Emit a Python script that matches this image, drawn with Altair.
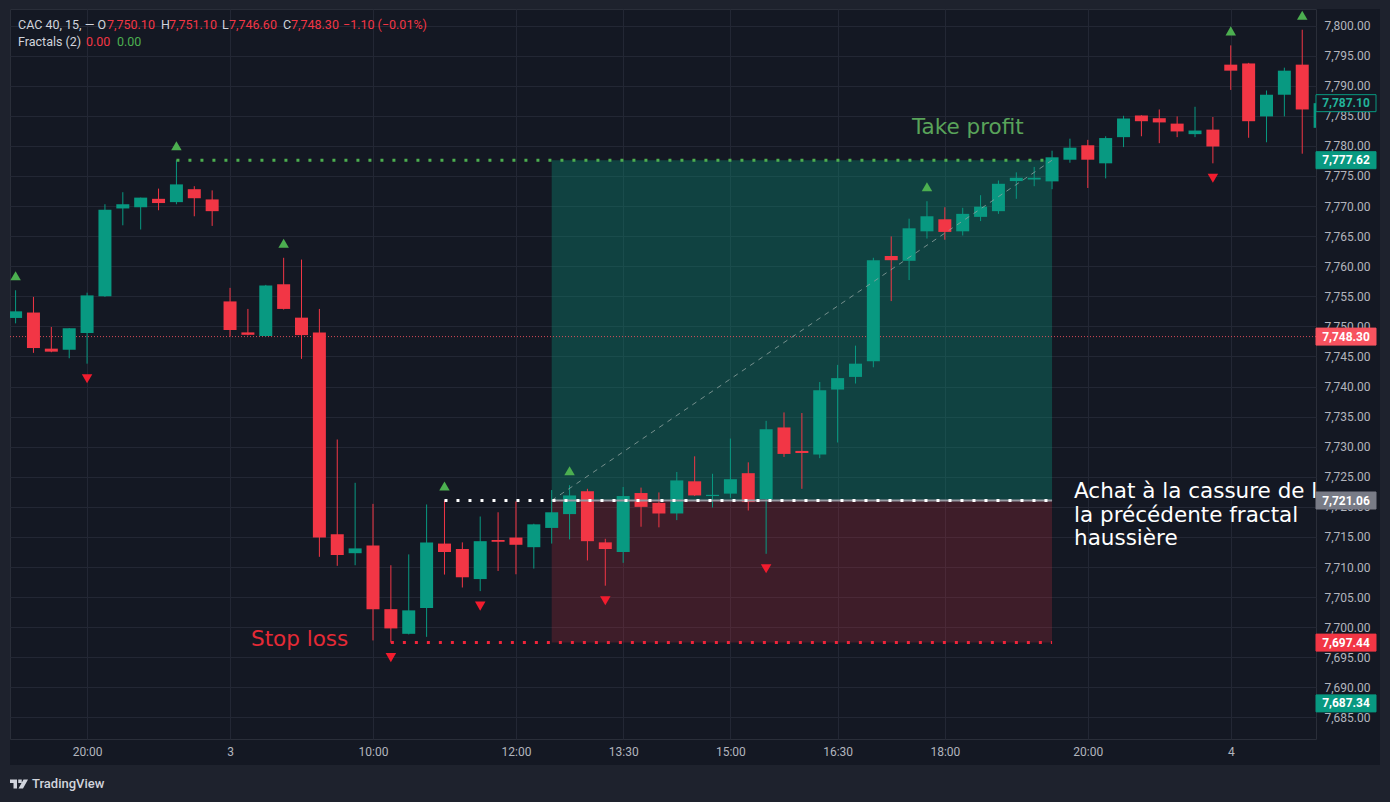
import altair as alt
import pandas as pd

# ---------------- data ----------------
bar_index = list(range(74))
opens = [7751.4, 7752.3, 7746.3, 7746.1, 7748.9, 7755.0, 7769.6, 7769.8, 7771.2, 7770.65,
         7772.8, 7771.1, 7754.15, 7749.0, 7748.4, 7757.0, 7751.45, 7749.0, 7715.45, 7712.3,
         7713.6, 7703.0, 7698.9, 7703.2, 7713.9, 7713.0, 7708.0, 7714.5, 7714.9, 7713.3,
         7716.5, 7718.8, 7722.6, 7714.1, 7712.5, 7722.3, 7720.65, 7718.9, 7724.25, 7721.8,
         7722.2, 7725.6, 7721.3, 7733.2, 7729.3, 7728.7, 7739.5, 7741.6, 7744.2, 7761.7,
         7760.9, 7765.8, 7767.8, 7765.8, 7768.2, 7769.15, 7774.15, 7774.4, 7774.1, 7777.7,
         7780.1, 7777.1, 7781.45, 7785.05, 7784.6, 7783.7, 7781.95, 7782.7, 7793.5, 7793.7,
         7784.9, 7788.5, 7793.5, 7783.0]
highs = [7756.0, 7754.9, 7749.9, 7749.7, 7755.6, 7770.3, 7772.3, 7771.4, 7772.9, 7777.62,
         7773.3, 7772.6, 7756.4, 7752.9, 7756.9, 7761.4, 7761.1, 7752.9, 7731.2, 7724.0,
         7720.5, 7710.3, 7712.1, 7720.4, 7721.06, 7714.1, 7718.4, 7719.1, 7720.9, 7717.2,
         7722.8, 7723.6, 7723.0, 7714.7, 7723.3, 7723.2, 7722.4, 7725.8, 7728.4, 7725.5,
         7731.35, 7727.4, 7734.3, 7735.7, 7735.6, 7740.75, 7743.6, 7746.8, 7761.4, 7764.95,
         7767.9, 7770.8, 7769.8, 7769.7, 7771.8, 7774.25, 7775.6, 7776.5, 7779.2, 7781.2,
         7781.0, 7781.6, 7785.0, 7785.1, 7786.05, 7784.9, 7786.5, 7784.8, 7796.7, 7793.8,
         7789.2, 7793.0, 7799.3, 7787.3]
lows = [7750.5, 7745.6, 7745.7, 7744.7, 7743.8, 7754.9, 7766.8, 7766.1, 7769.3, 7770.3,
        7768.3, 7766.7, 7748.3, 7748.5, 7748.3, 7752.8, 7744.6, 7711.7, 7710.2, 7710.3,
        7697.8, 7697.44, 7698.8, 7698.4, 7708.75, 7706.6, 7706.0, 7709.35, 7708.8, 7709.75,
        7713.9, 7714.6, 7711.1, 7706.9, 7710.7, 7716.7, 7716.6, 7717.8, 7721.8, 7719.9,
        7721.5, 7719.4, 7712.2, 7728.3, 7723.0, 7728.1, 7730.7, 7740.5, 7743.2, 7754.2,
        7757.7, 7764.6, 7764.4, 7765.1, 7767.5, 7768.7, 7771.2, 7773.3, 7772.8, 7777.2,
        7773.0, 7774.6, 7779.8, 7781.6, 7780.45, 7781.45, 7781.45, 7777.1, 7789.3, 7781.35,
        7780.6, 7784.9, 7778.7, 7783.0]
closes = [7752.5, 7746.4, 7745.8, 7749.7, 7755.15, 7769.4, 7770.3, 7771.4, 7770.5, 7773.6,
          7771.3, 7769.15, 7749.4, 7748.6, 7756.8, 7752.9, 7748.55, 7714.9, 7712.0, 7713.1,
          7703.0, 7699.8, 7702.8, 7714.1, 7712.5, 7708.3, 7714.3, 7714.2, 7713.7, 7717.1,
          7719.1, 7721.9, 7714.3, 7713.0, 7721.8, 7720.0, 7718.9, 7724.4, 7721.9, 7722.0,
          7724.6, 7720.8, 7732.9, 7728.8, 7728.95, 7739.4, 7741.4, 7743.8, 7761.0, 7761.0,
          7766.3, 7768.3, 7765.7, 7768.7, 7769.9, 7773.7, 7774.7, 7774.7, 7778.1, 7779.7,
          7777.7, 7781.3, 7784.55, 7784.1, 7783.9, 7782.4, 7782.55, 7779.9, 7792.5, 7784.1,
          7788.5, 7792.5, 7786.05, 7787.1]

up_fractal_idx = [0, 9, 15, 24, 31, 51, 68, 72]
down_fractal_idx = [4, 21, 26, 33, 42, 67]

tick_idx = [4, 12, 20, 28, 34, 40, 46, 52, 60, 68]
tick_labels = ["20:00", "3", "10:00", "12:00", "13:30", "15:00", "16:30", "18:00", "20:00", "4"]
price_ticks = list(range(7685, 7801, 5))

take_profit = 7777.62
entry_price = 7721.06
stop_loss = 7697.44
last_price = 7748.30
tp_line_start = 9
sl_line_start = 21
entry_line_start = 24
pos_start = 30
pos_end = 58

box_prices = [7787.10, 7777.62, 7748.30, 7721.06, 7697.44, 7687.34]
box_labels = ["7,787.10", "7,777.62", "7,748.30", "7,721.06", "7,697.44", "7,687.34"]

legend_values = ["7,750.10", "7,751.10", "7,746.60", "7,748.30"]
legend_change = "\u22121.10 (\u22120.01%)"
fractal_values = ["0.00", "0.00"]

# ---------------- styles ----------------
BG = "#141823"
FRAME = "#1e222d"
GRID = "#232734"
TXT = "#b2b5be"
UP = "#089981"
DOWN = "#f7525f"

W, H = 1306, 730
xs = alt.Scale(domain=[-0.313, 72.77], nice=False, zero=False, padding=0)
ys = alt.Scale(domain=[7681.42, 7802.75], nice=False, zero=False, padding=0)

label_expr = "''"
for v, lab in reversed(list(zip(tick_idx, tick_labels))):
    label_expr = f"datum.value == {v} ? '{lab}' : ({label_expr})"

x_axis = alt.Axis(values=tick_idx, labelExpr=label_expr, grid=True, gridColor=GRID,
                  ticks=False, domain=False, labelPadding=7, labelColor=TXT,
                  labelFont="Roboto", labelFontSize=12, title=None,
                  labelFlush=False, labelOverlap=False)
y_axis = alt.Axis(orient="right", values=price_ticks, format=",.2f", grid=True,
                  gridColor=GRID, ticks=False, domain=False, labelPadding=8,
                  labelColor=TXT, labelFont="Roboto", labelFontSize=12, title=None,
                  labelFlush=False, labelOverlap=False)

df = pd.DataFrame({"i": bar_index, "o": opens, "h": highs, "l": lows, "c": closes})
df["dir"] = ["up" if c >= o else "down" for o, c in zip(df.o, df.c)]
cscale = alt.Scale(domain=["up", "down"], range=[UP, DOWN])

one = pd.DataFrame({"a": [0]})


def X(f="i"):
    return alt.X(f"{f}:Q", scale=xs, axis=x_axis)


def Y(f):
    return alt.Y(f"{f}:Q", scale=ys, axis=y_axis)


layers = []

# outer lighter frame
for (x1, x2, y1, y2) in [(-10, 1380, -9, 0), (-10, 0, -9, 793), (1370, 1380, -9, 793), (-10, 1380, 756, 793)]:
    layers.append(alt.Chart(one).mark_rect(color=FRAME).encode(
        x=alt.value(x1), x2=alt.value(x2), y=alt.value(y1), y2=alt.value(y2)))

# position zones
zones = pd.DataFrame({"x": [pos_start, pos_start], "x2": [pos_end, pos_end],
                      "y": [entry_price, stop_loss], "y2": [take_profit, entry_price],
                      "zone": ["profit", "loss"], "op": [0.33, 0.19]})
layers.append(alt.Chart(zones).mark_rect().encode(
    x=X("x"), x2="x2:Q", y=Y("y"), y2="y2:Q",
    color=alt.Color("zone:N", scale=alt.Scale(domain=["profit", "loss"], range=["#089981", "#f23645"]), legend=None),
    opacity=alt.Opacity("op:Q", scale=None)))

# last price dotted rule
layers.append(alt.Chart(pd.DataFrame({"y": [last_price]})).mark_rule(
    color=DOWN, strokeDash=[1, 2], strokeWidth=1, opacity=0.85).encode(y=Y("y")))

# candles
layers.append(alt.Chart(df).mark_rule(strokeWidth=1, clip=True).encode(
    x=X("i"), y=Y("l"), y2="h:Q",
    color=alt.Color("dir:N", scale=cscale, legend=None)))
layers.append(alt.Chart(df).mark_bar(width=13, clip=True).encode(
    x=X("i"), y=Y("o"), y2="c:Q",
    color=alt.Color("dir:N", scale=cscale, legend=None)))

# fractal arrows
layers.append(alt.Chart(df[df.i.isin(up_fractal_idx)]).mark_point(
    shape="triangle-up", filled=True, size=110, yOffset=-14.5, color="#4caf50", opacity=1, clip=True).encode(
    x=X("i"), y=Y("h")))
layers.append(alt.Chart(df[df.i.isin(down_fractal_idx)]).mark_point(
    shape="triangle-down", filled=True, size=110, yOffset=15, color="#f21c2e", opacity=1, clip=True).encode(
    x=X("i"), y=Y("l")))

# entry grey line inside the position
layers.append(alt.Chart(pd.DataFrame({"x": [pos_start], "x2": [pos_end], "y": [entry_price]})).mark_rule(
    color="#9598a1", strokeWidth=2).encode(x=X("x"), x2="x2:Q", y=Y("y")))
# diagonal dashed line
layers.append(alt.Chart(pd.DataFrame({"x": [pos_start], "x2": [pos_end], "y": [entry_price], "y2": [take_profit]})).mark_rule(
    color="#8fa3a0", strokeWidth=1, strokeDash=[5, 5], opacity=0.8).encode(x=X("x"), x2="x2:Q", y=Y("y"), y2="y2:Q"))

# dotted level lines
for start, price, col in [(tp_line_start, take_profit, "#4caf50"),
                          (sl_line_start, stop_loss, "#f0243a"),
                          (entry_line_start, entry_price, "#ffffff")]:
    layers.append(alt.Chart(pd.DataFrame({"x": [start], "x2": [pos_end], "y": [price]})).mark_rule(
        color=col, strokeWidth=3, strokeDash=[3, 9]).encode(x=X("x"), x2="x2:Q", y=Y("y")))

# annotations
ann_font = "DejaVu Sans"
layers.append(alt.Chart(one).mark_text(text="Take profit", font=ann_font, fontSize=21.5, color="#59a35a",
                                       align="left", baseline="middle", clip=True).encode(
    x=alt.value(902), y=alt.value(119)))
layers.append(alt.Chart(one).mark_text(text="Stop loss", font=ann_font, fontSize=21.5, color="#e52a36",
                                       align="left", baseline="middle", clip=True).encode(
    x=alt.value(241), y=alt.value(631)))
for txt, yy in [("Achat \u00e0 la cassure de la", 483), ("la pr\u00e9c\u00e9dente fractal", 507), ("haussi\u00e8re", 530)]:
    layers.append(alt.Chart(one).mark_text(text=txt, font=ann_font, fontSize=21.5, color="#ffffff",
                                           align="left", baseline="middle", clip=True).encode(
        x=alt.value(1064), y=alt.value(yy)))

# price boxes on the axis
boxes = pd.DataFrame({"p": box_prices, "lab": box_labels,
                      "fill": [BG, UP, DOWN, "#787b86", "#f23645", UP],
                      "stroke": [UP, UP, DOWN, "#787b86", "#f23645", UP],
                      "tcol": ["#22b39a", "#ffffff", "#ffffff", "#ffffff", "#ffffff", "#ffffff"]})
layers.append(alt.Chart(boxes).mark_rect(yOffset=-8.5, y2Offset=8.5, strokeWidth=1).encode(
    x=alt.value(1306), x2=alt.value(1366), y=Y("p"), y2="p:Q",
    fill=alt.Fill("fill:N", scale=None), stroke=alt.Stroke("stroke:N", scale=None)))
layers.append(alt.Chart(boxes).mark_text(font="Roboto", fontSize=12, fontWeight="bold", align="center",
                                         baseline="middle").encode(
    x=alt.value(1336), y=Y("p"), text="lab:N", color=alt.Color("tcol:N", scale=None)))

# legend lines (top-left)
RED_T = "#f23645"
GREY_T = "#d1d4dc"
seg1 = [("CAC 40, 15, \u2014  O", 18, GREY_T), (legend_values[0], 107, RED_T), ("H", 161, GREY_T),
        (legend_values[1], 169, RED_T), ("L", 222, GREY_T), (legend_values[2], 229, RED_T),
        ("C", 283, GREY_T), (legend_values[3], 291, RED_T), (legend_change, 343, RED_T)]
for txt, px, col in seg1:
    layers.append(alt.Chart(one).mark_text(text=txt, font="Roboto", fontSize=12.5, color=col,
                                           align="left", baseline="middle").encode(
        x=alt.value(px - 10), y=alt.value(16)))
seg2 = [("Fractals (2)", 18, GREY_T), (fractal_values[0], 86, RED_T), (fractal_values[1], 117, "#4caf50")]
for txt, px, col in seg2:
    layers.append(alt.Chart(one).mark_text(text=txt, font="Roboto", fontSize=12.5, color=col,
                                           align="left", baseline="middle").encode(
        x=alt.value(px - 10), y=alt.value(33)))

# TradingView logo
logo_path = ("M-1,-0.5L-0.222,-0.5L-0.222,0.5L-0.611,0.5L-0.611,-0.111L-1,-0.111Z "
             "M-0.083,-0.5L0.306,-0.5L0.306,-0.111L-0.083,-0.111Z "
             "M0.5,-0.5L1,-0.5L0.444,0.5L-0.056,0.5Z")
layers.append(alt.Chart(one).mark_point(shape=logo_path, filled=True, size=324, color="#d1d4dc", opacity=1).encode(
    x=alt.value(9), y=alt.value(775)))
layers.append(alt.Chart(one).mark_text(text="TradingView", font="Roboto", fontSize=13, fontWeight=500,
                                       color="#d1d4dc", align="left", baseline="middle").encode(
    x=alt.value(22), y=alt.value(775)))

chart = alt.layer(*layers).properties(
    width=W, height=H,
    padding={"left": 10, "top": 9, "right": 74, "bottom": 63},
    autosize=alt.AutoSizeParams(type="none"),
    background=BG,
).configure_view(fill=BG, stroke="#2a2e39")

chart.save("out.html", embed_options={"renderer": "svg", "actions": False})
